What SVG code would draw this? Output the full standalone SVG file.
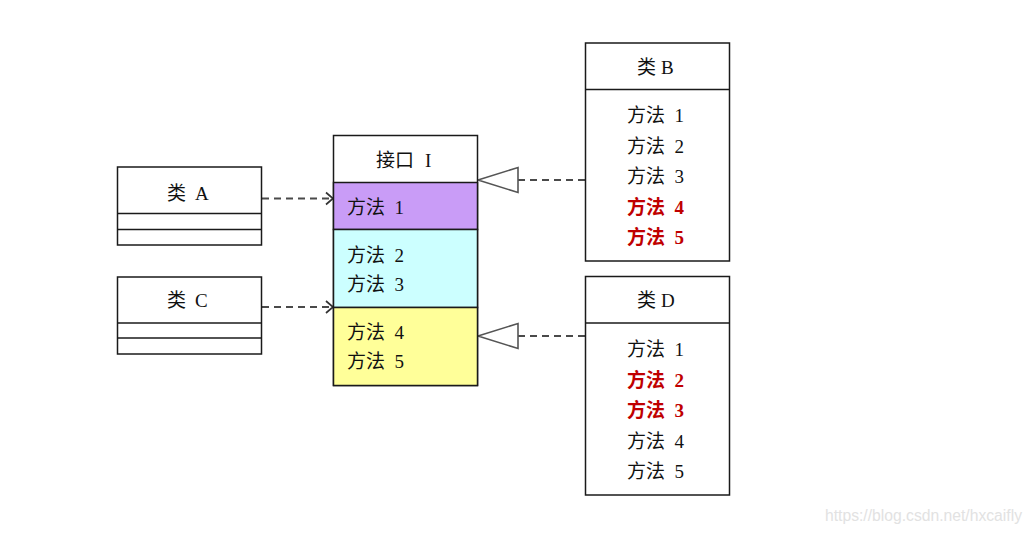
<svg xmlns="http://www.w3.org/2000/svg" width="1032" height="533" viewBox="0 0 1032 533">
<style>
.box{fill:#fff;stroke:#1a1a1a;stroke-width:1.5}
.sep{stroke:#1a1a1a;stroke-width:1.5;fill:none}
.t{font-family:"Liberation Serif","Noto Sans CJK SC",serif;font-size:19px;fill:#111}
.r{font-family:"Liberation Serif","Noto Sans CJK SC",serif;font-size:19px;fill:#C00000;font-weight:bold}
.dash{stroke:#4a4a4a;stroke-width:2;stroke-dasharray:7 5;fill:none}
.chev{stroke:#333;stroke-width:1.7;fill:none}
.tri{fill:#fff;stroke:#555;stroke-width:1.6}
.wm{font-family:"Liberation Sans",Arial,sans-serif;font-size:16px;fill:#e2e2e2}
</style>
<rect width="1032" height="533" fill="#fff"/>
<g id="connectors">
  <line class="dash" x1="262" y1="198.5" x2="331" y2="198.5"/>
  <polyline class="chev" points="326,192.5 333,198.5 326,204.5"/>
  <line class="dash" x1="262" y1="307" x2="331" y2="307"/>
  <polyline class="chev" points="326,301 333,307 326,313"/>
  <line class="dash" x1="518" y1="180" x2="585" y2="180"/>
  <polygon class="tri" points="478,180 518,167.5 518,192.5"/>
  <line class="dash" x1="518" y1="336" x2="585" y2="336"/>
  <polygon class="tri" points="478,336 518,323.5 518,348.5"/>
</g>
<g id="classA">
  <rect class="box" x="117.5" y="167" width="144" height="78"/>
  <line class="sep" x1="117.5" y1="213.5" x2="261.5" y2="213.5"/>
  <line class="sep" x1="117.5" y1="229.5" x2="261.5" y2="229.5"/>
  <text class="t" x="167" y="199.5">类<tspan x="195">A</tspan></text>
</g>
<g id="classC">
  <rect class="box" x="117.5" y="277" width="144" height="77"/>
  <line class="sep" x1="117.5" y1="323" x2="261.5" y2="323"/>
  <line class="sep" x1="117.5" y1="338" x2="261.5" y2="338"/>
  <text class="t" x="167" y="307">类<tspan x="195">C</tspan></text>
</g>
<g id="interfaceI">
  <rect class="box" x="333.5" y="135.5" width="144" height="250"/>
  <rect x="333.5" y="182.5" width="144" height="47" fill="#C99CF7" stroke="#1a1a1a" stroke-width="1.5"/>
  <rect x="333.5" y="229.5" width="144" height="78" fill="#CCFFFF" stroke="#1a1a1a" stroke-width="1.5"/>
  <rect x="333.5" y="307.5" width="144" height="78" fill="#FFFF99" stroke="#1a1a1a" stroke-width="1.5"/>
  <text class="t" x="376" y="167">接口<tspan x="425">I</tspan></text>
  <text class="t" x="347" y="213.5">方法<tspan x="394.5">1</tspan></text>
  <text class="t" x="347" y="262">方法<tspan x="394.5">2</tspan></text>
  <text class="t" x="347" y="291">方法<tspan x="394.5">3</tspan></text>
  <text class="t" x="347" y="338.5">方法<tspan x="394.5">4</tspan></text>
  <text class="t" x="347" y="367.5">方法<tspan x="394.5">5</tspan></text>
</g>
<g id="classB">
  <rect class="box" x="585.5" y="43" width="144" height="218"/>
  <line class="sep" x1="585.5" y1="89.5" x2="729.5" y2="89.5"/>
  <text class="t" x="637" y="74">类<tspan x="661">B</tspan></text>
  <text class="t" x="627" y="122">方法<tspan x="674.5">1</tspan></text>
  <text class="t" x="627" y="152.5">方法<tspan x="674.5">2</tspan></text>
  <text class="t" x="627" y="183">方法<tspan x="674.5">3</tspan></text>
  <text class="r" x="627" y="213.5">方法<tspan x="674.5">4</tspan></text>
  <text class="r" x="627" y="244">方法<tspan x="674.5">5</tspan></text>
</g>
<g id="classD">
  <rect class="box" x="585.5" y="276.5" width="144" height="218.5"/>
  <line class="sep" x1="585.5" y1="323" x2="729.5" y2="323"/>
  <text class="t" x="637" y="307">类<tspan x="661">D</tspan></text>
  <text class="t" x="627" y="356">方法<tspan x="674.5">1</tspan></text>
  <text class="r" x="627" y="386.5">方法<tspan x="674.5">2</tspan></text>
  <text class="r" x="627" y="417">方法<tspan x="674.5">3</tspan></text>
  <text class="t" x="627" y="447.5">方法<tspan x="674.5">4</tspan></text>
  <text class="t" x="627" y="478">方法<tspan x="674.5">5</tspan></text>
</g>
<text class="wm" x="825" y="521" textLength="197" lengthAdjust="spacingAndGlyphs">https://blog.csdn.net/hxcaifly</text>
</svg>
